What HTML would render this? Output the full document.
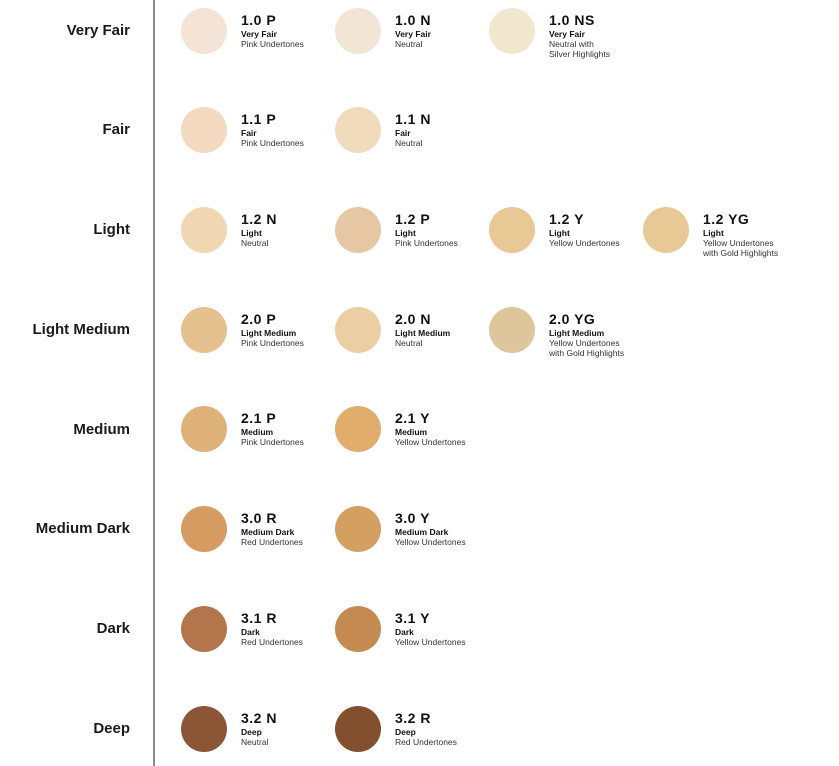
<!DOCTYPE html>
<html><head><meta charset="utf-8"><style>
body{margin:0;width:839px;height:766px;background:#fff;position:relative;overflow:hidden;font-family:"Liberation Sans",sans-serif;color:#111}
.vl{position:absolute;left:153px;top:0;width:2px;height:766px;background:#8a8a8a}
.lab{position:absolute;right:709px;font-size:15px;font-weight:bold;line-height:18px;white-space:nowrap;color:#1a1a1a}
.c{position:absolute;width:46px;height:46px;border-radius:50%}
.t{position:absolute;white-space:nowrap}
.t b{display:block;font-size:14px;line-height:16px;letter-spacing:0.5px;margin-bottom:1px}
.t i{display:block;font-style:normal;font-weight:bold;font-size:8.5px;line-height:10px}
.t span{display:block;font-size:8.5px;line-height:10px;color:#333}
</style></head><body>
<div class="vl"></div>

<div class="lab" style="top:22px">Very Fair</div>
<div class="lab" style="top:121px">Fair</div>
<div class="lab" style="top:221px">Light</div>
<div class="lab" style="top:321px">Light Medium</div>
<div class="lab" style="top:421px">Medium</div>
<div class="lab" style="top:520px">Medium Dark</div>
<div class="lab" style="top:620px">Dark</div>
<div class="lab" style="top:720px">Deep</div>

<div class="c" style="left:181px;top:8px;background:#f3e4d7"></div>
<div class="t" style="left:241px;top:12px"><b>1.0 P</b><i>Very Fair</i><span>Pink Undertones</span></div>
<div class="c" style="left:335px;top:8px;background:#f2e5d6"></div>
<div class="t" style="left:395px;top:12px"><b>1.0 N</b><i>Very Fair</i><span>Neutral</span></div>
<div class="c" style="left:489px;top:8px;background:#f3e6cf"></div>
<div class="t" style="left:549px;top:12px"><b>1.0 NS</b><i>Very Fair</i><span>Neutral with<br>Silver Highlights</span></div>

<div class="c" style="left:181px;top:107px;background:#f2d9bf"></div>
<div class="t" style="left:241px;top:111px"><b>1.1 P</b><i>Fair</i><span>Pink Undertones</span></div>
<div class="c" style="left:335px;top:107px;background:#f0dcbb"></div>
<div class="t" style="left:395px;top:111px"><b>1.1 N</b><i>Fair</i><span>Neutral</span></div>

<div class="c" style="left:181px;top:207px;background:#f1d7b1"></div>
<div class="t" style="left:241px;top:211px"><b>1.2 N</b><i>Light</i><span>Neutral</span></div>
<div class="c" style="left:335px;top:207px;background:#e6c6a3"></div>
<div class="t" style="left:395px;top:211px"><b>1.2 P</b><i>Light</i><span>Pink Undertones</span></div>
<div class="c" style="left:489px;top:207px;background:#e8c895"></div>
<div class="t" style="left:549px;top:211px"><b>1.2 Y</b><i>Light</i><span>Yellow Undertones</span></div>
<div class="c" style="left:643px;top:207px;background:#e8c895"></div>
<div class="t" style="left:703px;top:211px"><b>1.2 YG</b><i>Light</i><span>Yellow Undertones<br>with Gold Highlights</span></div>

<div class="c" style="left:181px;top:307px;background:#e5c08f"></div>
<div class="t" style="left:241px;top:311px"><b>2.0 P</b><i>Light Medium</i><span>Pink Undertones</span></div>
<div class="c" style="left:335px;top:307px;background:#ebcea3"></div>
<div class="t" style="left:395px;top:311px"><b>2.0 N</b><i>Light Medium</i><span>Neutral</span></div>
<div class="c" style="left:489px;top:307px;background:#dfc59b"></div>
<div class="t" style="left:549px;top:311px"><b>2.0 YG</b><i>Light Medium</i><span>Yellow Undertones<br>with Gold Highlights</span></div>

<div class="c" style="left:181px;top:406px;background:#dfb27a"></div>
<div class="t" style="left:241px;top:410px"><b>2.1 P</b><i>Medium</i><span>Pink Undertones</span></div>
<div class="c" style="left:335px;top:406px;background:#e0ad6c"></div>
<div class="t" style="left:395px;top:410px"><b>2.1 Y</b><i>Medium</i><span>Yellow Undertones</span></div>

<div class="c" style="left:181px;top:506px;background:#d69b60"></div>
<div class="t" style="left:241px;top:510px"><b>3.0 R</b><i>Medium Dark</i><span>Red Undertones</span></div>
<div class="c" style="left:335px;top:506px;background:#d3a062"></div>
<div class="t" style="left:395px;top:510px"><b>3.0 Y</b><i>Medium Dark</i><span>Yellow Undertones</span></div>

<div class="c" style="left:181px;top:606px;background:#b3754b"></div>
<div class="t" style="left:241px;top:610px"><b>3.1 R</b><i>Dark</i><span>Red Undertones</span></div>
<div class="c" style="left:335px;top:606px;background:#c58a51"></div>
<div class="t" style="left:395px;top:610px"><b>3.1 Y</b><i>Dark</i><span>Yellow Undertones</span></div>

<div class="c" style="left:181px;top:706px;background:#8a5635"></div>
<div class="t" style="left:241px;top:710px"><b>3.2 N</b><i>Deep</i><span>Neutral</span></div>
<div class="c" style="left:335px;top:706px;background:#824f2f"></div>
<div class="t" style="left:395px;top:710px"><b>3.2 R</b><i>Deep</i><span>Red Undertones</span></div>
</body></html>
